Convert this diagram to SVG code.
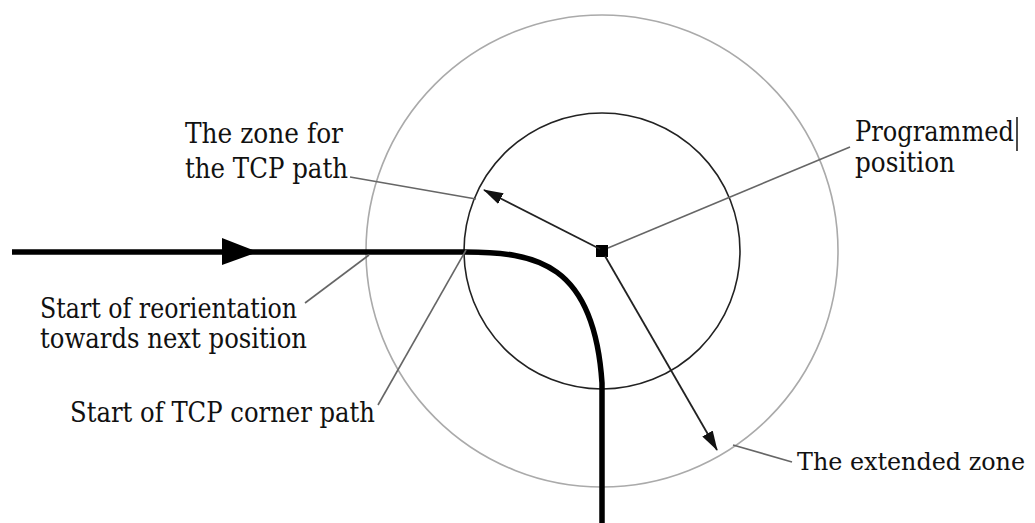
<svg xmlns="http://www.w3.org/2000/svg" width="1035" height="523" viewBox="0 0 1035 523">
  <style>
    .leader { stroke: #666; stroke-width: 1.6; fill: none; }
    .vec { stroke: #222; stroke-width: 1.8; fill: none; }
    .tcp { stroke: #000; stroke-width: 5.5; fill: none; }
    .lbl { font-family: "DejaVu Serif", serif; font-size: 27px; fill: #111; }
  </style>
  <defs>
    <marker id="vecHead" viewBox="0 0 20 12" refX="19" refY="6" markerWidth="20" markerHeight="12" markerUnits="userSpaceOnUse" orient="auto">
      <path d="M0,0 L20,6 L0,12 Z" fill="#111"/>
    </marker>
  </defs>

  <!-- zones -->
  <g id="extended-zone">
    <circle cx="602" cy="251" r="236" fill="none" stroke="#aaa" stroke-width="1.6"/>
  </g>
  <g id="tcp-zone">
    <circle cx="602" cy="251" r="138" fill="none" stroke="#222" stroke-width="1.6"/>
  </g>

  <!-- TCP path with corner -->
  <g id="tcp-path">
    <path class="tcp" d="M12,252 L465,252 C535,252 594,262 602,383 L602,523"/>
    <path d="M222,238 L258,252 L222,265 Z" fill="#000"/>
  </g>

  <!-- programmed position -->
  <g id="programmed-position">
    <rect x="596" y="245" width="12" height="12" fill="#000"/>
  </g>

  <!-- zone radius vectors and label leaders -->
  <g id="connectors">
    <line class="vec" x1="600" y1="249" x2="484" y2="190" marker-end="url(#vecHead)"/>
    <line class="vec" x1="605" y1="256" x2="717" y2="450" marker-end="url(#vecHead)"/>
    <line class="leader" x1="350" y1="177" x2="476" y2="199"/>
    <line class="leader" x1="608" y1="248" x2="850" y2="147"/>
    <line class="leader" x1="305" y1="303" x2="369" y2="255"/>
    <line class="leader" x1="378" y1="405" x2="466" y2="250"/>
    <line class="leader" x1="733" y1="445" x2="792" y2="462"/>
  </g>

  <!-- labels -->
  <g id="label-tcp-zone">
    <text class="lbl" x="185" y="143" textLength="158" lengthAdjust="spacingAndGlyphs">The zone for</text>
    <text class="lbl" x="185" y="178" textLength="163" lengthAdjust="spacingAndGlyphs">the TCP path</text>
  </g>
  <g id="label-programmed">
    <text class="lbl" x="855" y="141" textLength="159" lengthAdjust="spacingAndGlyphs">Programmed</text>
    <text class="lbl" x="855" y="172" textLength="100" lengthAdjust="spacingAndGlyphs">position</text>
    <line x1="1017" y1="117" x2="1017" y2="151" stroke="#111" stroke-width="1.5"/>
  </g>
  <g id="label-reorientation">
    <text class="lbl" x="40" y="318" textLength="257" lengthAdjust="spacingAndGlyphs">Start of reorientation</text>
    <text class="lbl" x="40" y="348" textLength="267" lengthAdjust="spacingAndGlyphs">towards next position</text>
  </g>
  <g id="label-corner">
    <text class="lbl" x="70" y="422" textLength="305" lengthAdjust="spacingAndGlyphs">Start of TCP corner path</text>
  </g>
  <g id="label-extended">
    <text class="lbl" x="797" y="470" style="font-size:25px" textLength="228" lengthAdjust="spacingAndGlyphs">The extended zone</text>
  </g>
</svg>
